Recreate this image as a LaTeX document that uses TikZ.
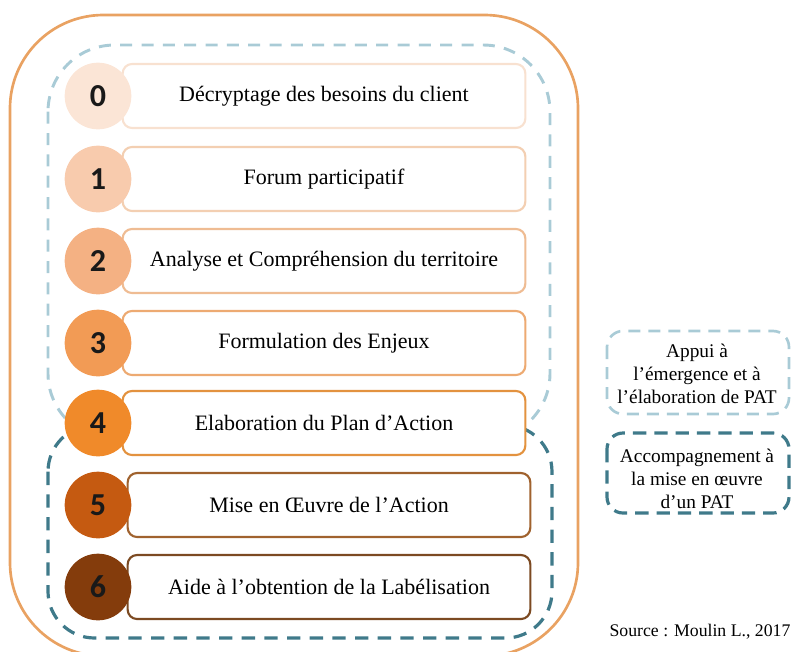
\documentclass[tikz,border=0pt]{standalone}
\usepackage{fontspec}
\setmainfont{Liberation Serif}
\newfontfamily\digitfont{Carlito}
\usetikzlibrary{arrows.meta}

\definecolor{stepA}{HTML}{FBE5D6}
\definecolor{stepB}{HTML}{F8CBAD}
\definecolor{stepC}{HTML}{F4B183}
\definecolor{stepD}{HTML}{F29B55}
\definecolor{stepE}{HTML}{F08A2A}
\definecolor{stepF}{HTML}{C55A11}
\definecolor{stepG}{HTML}{843C0C}
\definecolor{lineA}{HTML}{F8E1D0}
\definecolor{lineB}{HTML}{F3CFB2}
\definecolor{lineC}{HTML}{EFBC93}
\definecolor{lineD}{HTML}{EDAA72}
\definecolor{lineE}{HTML}{E3923F}
\definecolor{lineF}{HTML}{A0622E}
\definecolor{lineG}{HTML}{7C4A22}
\definecolor{outerline}{HTML}{E9A262}
\definecolor{paleblue}{HTML}{A9CBD6}
\definecolor{darkteal}{HTML}{3F7A8A}

\tikzset{
  stepbox/.style={draw, line width=1.6pt, fill=white, rounded corners=7pt,
    minimum width=302pt, minimum height=48pt,
    font=\fontsize{16.5}{18}\selectfont},
  stepnum/.style={circle, minimum size=50pt, inner sep=0pt,
    font=\digitfont\bfseries\fontsize{24}{24}\selectfont, text=black!90},
  legendtext/.style={align=center, font=\fontsize{14.5}{17}\selectfont}
}

\begin{document}
\begin{tikzpicture}[x=0.75pt,y=-0.75pt]
        \useasboundingbox (0,0) rectangle (792,651);

        \coordinate (C0) at (98,96);
        \coordinate (C1) at (98,179);
        \coordinate (C2) at (98,261);
        \coordinate (C3) at (98,343);
        \coordinate (C4) at (98,423);
        \coordinate (C5) at (98,505);
        \coordinate (C6) at (98,587);

        % frames
        \draw[outerline, line width=2pt, rounded corners=70pt] (10,15) rectangle (578,656);
        \draw[paleblue, line width=2.2pt, dash pattern=on 9pt off 7pt, rounded corners=50pt] (48,45) rectangle (550,440);
        \draw[darkteal, line width=2.4pt, dash pattern=on 10pt off 7pt, rounded corners=35pt] (48,425) rectangle (552,638);

        % steps
        \node[stepbox, draw=lineA] (box0) at (324,96)  {Décryptage des besoins du client};
        \node[stepbox, draw=lineB] (box1) at (324,179) {Forum participatif};
        \node[stepbox, draw=lineC] (box2) at (324,261) {Analyse et Compréhension du territoire};
        \node[stepbox, draw=lineD] (box3) at (324,343) {Formulation des Enjeux};
        \node[stepbox, draw=lineE] (box4) at (324,423) {Elaboration du Plan d’Action};
        \node[stepbox, draw=lineF] (box5) at (329,505) {Mise en Œuvre de l’Action};
        \node[stepbox, draw=lineG] (box6) at (329,587) {Aide à l’obtention de la Labélisation};

        \node[stepnum, fill=stepA] (num0) at (C0) {0};
        \node[stepnum, fill=stepB] (num1) at (C1) {1};
        \node[stepnum, fill=stepC] (num2) at (C2) {2};
        \node[stepnum, fill=stepD] (num3) at (C3) {3};
        \node[stepnum, fill=stepE] (num4) at (C4) {4};
        \node[stepnum, fill=stepF] (num5) at (C5) {5};
        \node[stepnum, fill=stepG] (num6) at (C6) {6};

        % legend
        \draw[paleblue, line width=2pt, dash pattern=on 9pt off 6pt, rounded corners=12pt] (607,331) rectangle (789,414);
        \draw[darkteal, line width=2.4pt, dash pattern=on 10pt off 6pt, rounded corners=12pt] (607,433) rectangle (789,513);

        \node[legendtext] (keyA) at (697,374) {Appui à\\ l’émergence et à\\ l’élaboration de PAT};
        \node[legendtext] (keyB) at (697,479) {Accompagnement à\\ la mise en œuvre\\ d’un PAT};

        \node[font=\fontsize{13.3}{15}\selectfont] (source) at (700,632) {Source : Moulin L., 2017};
    \end{tikzpicture}
\end{document}
